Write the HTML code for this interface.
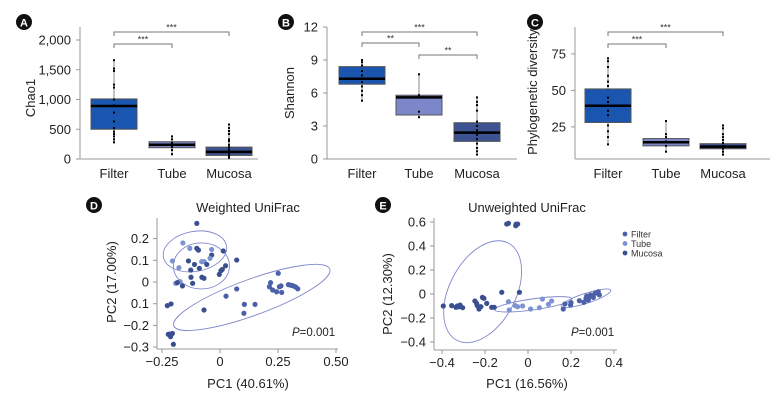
<!DOCTYPE html>
<html><head><meta charset="utf-8"><style>
body{margin:0;background:#fff;}
svg{display:block;font-family:"Liberation Sans",Arial,sans-serif;}
</style></head><body>
<svg id="fig" width="774" height="405" viewBox="0 0 774 405" xmlns="http://www.w3.org/2000/svg"></svg>
<script>
const NS="http://www.w3.org/2000/svg";
const svg=document.getElementById('fig');
function mk(tag,attrs,parent,text){const e=document.createElementNS(NS,tag);for(const k in attrs)e.setAttribute(k,attrs[k]);if(text!==undefined)e.textContent=text;(parent||svg).appendChild(e);return e;}

// ---------- box plot data ----------
const categories=["Filter","Tube","Mucosa"];
const boxColors=["#1a56b0","#7b87c9","#3d5291"];
const chaoStats=[[280,500,890,1010,1660],[80,190,240,290,380],[20,60,120,200,580]];
const chaoPts=[[280,330,380,420,460,520,630,780,900,1000,1200,1250,1480,1520,1660],[80,150,200,240,270,330,380],[20,40,60,80,100,130,160,200,240,300,330,420,470,520,580]];
const shanStats=[[5.3,6.8,7.3,8.4,9.0],[3.8,4.0,5.6,5.8,7.7],[0.4,1.6,2.4,3.3,5.6]];
const shanPts=[[5.3,5.8,6.2,6.6,7.0,7.3,7.6,8.0,8.5,8.8,9.0],[3.8,4.3,5.8,7.7],[0.4,0.7,1.0,1.4,1.8,2.2,2.6,3.0,3.4,4.4,4.9,5.2,5.6]];
const pdStats=[[13,28,39.5,51,72],[8,12,14.5,17,29],[6,10,11.5,13.5,26]];
const pdPts=[[13,18,22,26,33,36,42,45,53,56,60,66,70,72],[8,12,15,18,20,29],[6,8,10,12,14,16,18,20,24,26]];
const chaoTicks=[0,500,1000,1500,2000];
const chaoTickLabels=["0","500","1,000","1,500","2,000"];
const shanTicks=[0,3,6,9,12];
const pdTicks=[25,50,75];

function boxPanel(o){
  const g=mk('g',{});
  const y=v=>o.y0-(v-o.vmin)*o.scale;
  mk('line',{x1:o.ax,y1:o.top,x2:o.ax,y2:159,stroke:'#999','stroke-width':1,},g);
  mk('line',{x1:o.ax,y1:159,x2:o.ax+o.len,y2:159,stroke:'#999','stroke-width':1,},g);
  o.ticks.forEach((t,i)=>{const yy=y(t);
    mk('line',{x1:o.ax-4,y1:yy,x2:o.ax,y2:yy,stroke:'#999',},g);
    mk('text',{x:o.ax-9,y:yy+4.5,'text-anchor':'end','font-size':13,fill:'#222',},g,o.labels?o.labels[i]:String(t));});
  categories.forEach((c,i)=>{const cx=o.cx[i];const s=o.stats[i];
    mk('text',{x:cx,y:178,'text-anchor':'middle','font-size':13,fill:'#222',},g,c);
    mk('line',{x1:cx,y1:y(s[0]),x2:cx,y2:y(s[4]),stroke:'#888','stroke-width':1,},g);
    mk('rect',{x:cx-23,y:y(s[3]),width:46,height:y(s[1])-y(s[3]),fill:boxColors[i],stroke:'#555','stroke-width':1,},g);
    mk('line',{x1:cx-23,y1:y(s[2]),x2:cx+23,y2:y(s[2]),stroke:'#000','stroke-width':2.5,},g);
    o.pts[i].forEach(v=>{mk('rect',{x:cx-1,y:y(v)-1,width:2,height:2,fill:'#000',},g);});
  });
  o.brackets.forEach(b=>{const x1=o.cx[b[0]],x2=o.cx[b[1]],yy=b[2];
    mk('path',{d:`M${x1},${yy+4}V${yy}H${x2}V${yy+4}`,fill:'none',stroke:'#777','stroke-width':1,},g);
    mk('text',{x:(x1+x2)/2,y:yy-1.5,'text-anchor':'middle','font-size':9,fill:'#333',},g,b[3]);});
  mk('text',{x:0,y:0,transform:`translate(${o.tx},${o.ty}) rotate(-90)`,'text-anchor':'middle','font-size':13,fill:'#222',},g,o.title);
  mk('circle',{cx:o.bx,cy:22,r:8,fill:'#111',},g);
  mk('text',{x:o.bx,y:26.5,'text-anchor':'middle','font-size':11,'font-weight':'bold',fill:'#fff',},g,o.letter);
}
boxPanel({name:'panel-a-chao1',ax:80,len:178,top:27,y0:159,vmin:0,scale:119/2000,ticks:chaoTicks,labels:chaoTickLabels,cx:[114,172,229],stats:chaoStats,pts:chaoPts,brackets:[[0,2,32,'***'],[0,1,44,'***']],title:'Chao1',tx:35,ty:98,bx:24,letter:'A'});
boxPanel({name:'panel-b-shannon',ax:327,len:190,top:27,y0:159,vmin:0,scale:132/12,ticks:shanTicks,cx:[362,419,477],stats:shanStats,pts:shanPts,brackets:[[0,2,32,'***'],[0,1,43,'**'],[1,2,55,'**']],title:'Shannon',tx:294,ty:93,bx:286,letter:'B'});
boxPanel({name:'panel-c-phylogenetic',ax:575,len:195,top:27,y0:159,vmin:3,scale:1.46,ticks:pdTicks,cx:[608,666,723],stats:pdStats,pts:pdPts,brackets:[[0,2,32,'***'],[0,1,44,'***']],title:'Phylogenetic diversity',tx:537,ty:92,bx:535,letter:'C'});

// ---------- PCoA data ----------
const groupColors={F:"#4a60a8",T:"#7d92d2",M:"#3a4f90"};
const dX=[-0.10,-0.16,-0.13,-0.10,-0.093,-0.036,-0.036,0.014,-0.205,-0.177,-0.136,-0.11,-0.079,-0.068,-0.057,-0.043,-0.089,-0.126,-0.172,-0.191,-0.184,-0.162,-0.125,-0.118,-0.078,-0.069,-0.003,0.004,0.01,0.024,0.072,0.072,0.026,-0.069,-0.227,-0.211,0.105,0.151,0.103,-0.223,-0.213,-0.218,-0.205,-0.201,0.251,0.218,0.213,0.227,0.244,0.256,0.263,0.266,0.295,0.306,0.316,0.326,0.335];
const dY=[0.27,0.18,0.155,0.155,0.147,0.15,0.124,0.143,0.097,0.066,0.097,0.081,0.094,0.094,0.081,0.109,0.063,0.055,0.002,-0.006,-0.003,-0.018,0.022,-0.006,0.022,0.017,0.035,0.052,0.058,0.075,0.101,-0.032,-0.065,-0.129,-0.109,-0.101,-0.103,-0.103,-0.144,-0.241,-0.252,-0.24,-0.237,-0.287,0.04,-0.003,-0.022,-0.037,-0.045,-0.022,-0.018,-0.048,-0.012,-0.015,-0.018,-0.023,-0.031];
const dG="MTTMMTMMTTMMTTMTMMTTMMMMMMMMMMMFFMMMFFFMMMMMFFFFFFFFFFFFF";
const eX=[-0.099,-0.091,-0.056,-0.048,-0.057,-0.394,-0.355,-0.335,-0.329,-0.316,-0.321,-0.304,-0.247,-0.239,-0.236,-0.228,-0.219,-0.212,-0.205,-0.192,-0.169,-0.157,-0.122,-0.091,-0.04,-0.087,-0.06,-0.048,-0.025,0.012,0.053,0.067,0.095,0.11,0.164,0.172,0.198,0.2,0.239,0.26,0.27,0.273,0.285,0.291,0.312,0.324,0.327,0.332,0.304,0.281];
const eY=[0.583,0.589,0.581,0.583,0.569,-0.1,-0.097,-0.111,-0.1,-0.092,-0.106,-0.114,-0.058,-0.078,-0.097,-0.125,-0.106,-0.028,-0.036,-0.078,-0.111,-0.111,0.014,-0.064,0.014,-0.133,-0.097,-0.106,-0.1,-0.125,-0.114,-0.042,-0.086,-0.058,-0.125,-0.083,-0.092,-0.072,-0.056,-0.069,-0.036,-0.017,-0.022,-0.008,0.006,0.011,0.019,-0.008,-0.028,-0.05];
const eG="MMMMMMMMMMMMMMMMMMMMMMMTMTTTTTTTTTFFFFFFFFFFFFFFFF";
const dTicksX=[-0.25,0,0.25,0.5], dTickXLabels=["\u22120.25","0","0.25","0.50"];
const dTicksY=[0.2,0.1,0,-0.1,-0.2,-0.3], dTickYLabels=["0.2","0.1","0","0.1","\u22120.2","\u22120.3"];
const eTicksX=[-0.4,-0.2,0,0.2,0.4], eTickXLabels=["\u22120.4","\u22120.2","0","0.2","0.4"];
const eTicksY=[0.6,0.4,0.2,0,-0.2,-0.4], eTickYLabels=["0.6","0.4","0.2","0","\u22120.2","\u22120.4"];
// ellipses: center (data units), radii px, rotation deg
const dEll=[[-0.108,0.141,32,20,-10],[-0.08,0.074,28,23,0],[0.137,-0.071,83,18,-20]];
const eEll=[[-0.211,0.019,33,55,28],[0.025,-0.086,39,5.5,-8],[0.27,-0.036,26,5,-18]];

function pcoa(o){
  const g=mk('g',{});
  const X=v=>o.x0+v*o.sx, Y=v=>o.y0-v*o.sy;
  mk('line',{x1:o.ax,y1:o.top,x2:o.ax,y2:o.bot,stroke:'#999',},g);
  mk('line',{x1:o.ax,y1:o.bot,x2:o.right,y2:o.bot,stroke:'#999',},g);
  o.tx.forEach((t,i)=>{const xx=X(t);mk('line',{x1:xx,y1:o.bot,x2:xx,y2:o.bot+4,stroke:'#999',},g);
    mk('text',{x:xx,y:o.bot+17,'text-anchor':'middle','font-size':13,fill:'#222',},g,o.txl[i]);});
  o.ty.forEach((t,i)=>{const yy=Y(t);mk('line',{x1:o.ax-4,y1:yy,x2:o.ax,y2:yy,stroke:'#999',},g);
    mk('text',{x:o.ax-8,y:yy+4.5,'text-anchor':'end','font-size':13,fill:'#222',},g,o.tyl[i]);});
  o.ell.forEach(e=>{mk('ellipse',{cx:0,cy:0,rx:e[2],ry:e[3],transform:`translate(${X(e[0])},${Y(e[1])}) rotate(${e[4]})`,fill:'none',stroke:'#8088cc','stroke-width':0.9,},g);});
  o.xs.forEach((v,i)=>{mk('circle',{cx:X(v),cy:Y(o.ys[i]),r:2.6,fill:groupColors[o.gs[i]],},g);});
  mk('text',{x:o.titleX,y:212,'text-anchor':'middle','font-size':13,fill:'#222',},g,o.title);
  mk('text',{x:o.titleX,y:388,'text-anchor':'middle','font-size':13,fill:'#222',},g,o.xt);
  mk('text',{x:0,y:0,transform:`translate(${o.ytx},${o.y0}) rotate(-90)`,'text-anchor':'middle','font-size':13,fill:'#222',},g,o.yt);
  const p=mk('text',{x:o.px,y:336,'font-size':11.5,fill:'#222',},g);
  mk('tspan',{'font-style':'italic'},p,'P');mk('tspan',{},p,'=0.001');
  mk('circle',{cx:o.bx,cy:205,r:8,fill:'#111',},g);
  mk('text',{x:o.bx,y:209.5,'text-anchor':'middle','font-size':11,'font-weight':'bold',fill:'#fff',},g,o.letter);
}
pcoa({name:'panel-d-weighted-unifrac',x0:220,sx:232,y0:282,sy:217,ax:157,top:218,bot:349,right:338,tx:dTicksX,txl:dTickXLabels,ty:dTicksY,tyl:dTickYLabels,ell:dEll,xs:dX,ys:dY,gs:dG,title:'Weighted UniFrac',titleX:248,xt:'PC1 (40.61%)',yt:'PC2 (17.00%)',ytx:116,px:292,bx:94,letter:'D'});
pcoa({name:'panel-e-unweighted-unifrac',x0:528,sx:215,y0:294,sy:120,ax:434,top:218,bot:350,right:617,tx:eTicksX,txl:eTickXLabels,ty:eTicksY,tyl:eTickYLabels,ell:eEll,xs:eX,ys:eY,gs:eG,title:'Unweighted UniFrac',titleX:527,xt:'PC1 (16.56%)',yt:'PC2 (12.30%)',ytx:392,px:571,bx:383,letter:'E'});

// legend
const legendNames=["Filter","Tube","Mucosa"], legendKeys=["F","T","M"];
const lg=mk('g',{});
legendNames.forEach((n,i)=>{const yy=234+i*9.5;
  mk('circle',{cx:625,cy:yy,r:2.4,fill:groupColors[legendKeys[i]],},lg);
  mk('text',{x:631,y:yy+3.5,'font-size':9,fill:'#333',},lg,n);});
</script>
</body></html>
